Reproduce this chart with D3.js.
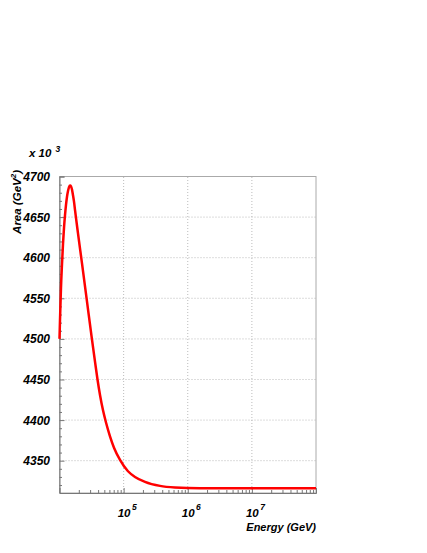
<!DOCTYPE html>
<html>
<head>
<meta charset="utf-8">
<script src="https://cdn.jsdelivr.net/npm/d3@7"></script>
<style>
  body { margin: 0; background: #fff; }
  text { font-family: "Liberation Sans", Arial, sans-serif; font-weight: bold; font-style: italic; }
</style>
</head>
<body>
<div id="chart"></div>
<script>
// energy (GeV) and area (x 10^3 GeV^2)
var energy = [1.0e4, 1.018e4, 1.037e4, 1.055e4, 1.094e4, 1.134e4, 1.176e4, 1.218e4, 1.263e4, 1.309e4,
              1.357e4, 1.407e4, 1.463e4, 1.511e4, 1.566e4, 1.623e4, 1.683e4, 1.744e4, 1.808e4, 1.943e4,
              2.243e4, 2.685e4, 3.212e4, 3.578e4, 3.914e4, 4.282e4, 4.77e4, 5.311e4, 6.131e4, 7.078e4,
              8.781e4, 1.17e5, 1.505e5, 2.154e5, 3.693e5, 6.327e5, 1.55e6, 1e7, 1e8];
var area = [4500, 4523, 4544, 4563, 4592, 4617, 4637, 4652, 4665, 4675,
            4682, 4687, 4689, 4688, 4684, 4677, 4669, 4659, 4649, 4630,
            4593, 4546, 4499, 4472, 4450, 4431, 4412, 4397, 4380, 4366,
            4351, 4337, 4330, 4324, 4319, 4317, 4316, 4316, 4316];

var yTicks = [4350, 4400, 4450, 4500, 4550, 4600, 4650, 4700];
var xTicks = [1e5, 1e6, 1e7];

var width = 427, height = 553;
var margin = {left: 59.5, right: 111, top: 176.5, bottom: 60};

var svg = d3.select("#chart").append("svg")
    .attr("width", width)
    .attr("height", height);

var x = d3.scaleLog()
    .domain([1e4, 1e8])
    .range([margin.left, width - margin.right]);

var y = d3.scaleLinear()
    .domain([4310.2, 4700])
    .range([height - margin.bottom, margin.top]);

// grid
var grid = svg.append("g")
    .attr("stroke", "#aaa")
    .attr("stroke-width", 0.8)
    .attr("stroke-dasharray", "1,2");

grid.selectAll(".gy")
  .data(yTicks)
  .join("line")
    .attr("x1", x.range()[0])
    .attr("x2", x.range()[1])
    .attr("y1", d => y(d))
    .attr("y2", d => y(d));

grid.selectAll(".gx")
  .data(xTicks)
  .join("line")
    .attr("x1", d => x(d))
    .attr("x2", d => x(d))
    .attr("y1", y.range()[0])
    .attr("y2", y.range()[1]);

// frame
svg.append("rect")
    .attr("x", x.range()[0])
    .attr("y", y.range()[1])
    .attr("width", x.range()[1] - x.range()[0])
    .attr("height", y.range()[0] - y.range()[1])
    .attr("fill", "none")
    .attr("stroke", "#aaa")
    .attr("stroke-width", 1);

// y axis
var minorY = d3.range(4320, 4701, 10).filter(v => v % 50 != 0);
svg.append("g")
    .attr("transform", `translate(${x.range()[0]},0)`)
    .call(d3.axisLeft(y).tickValues(yTicks).tickSize(-5).tickFormat(""));
svg.append("g")
    .attr("transform", `translate(${x.range()[0]},0)`)
    .call(d3.axisLeft(y).tickValues(minorY).tickSize(-2.5).tickFormat(""))
    .call(g => g.select(".domain").remove());

// x axis
var minorX = [];
[1e4, 1e5, 1e6, 1e7].forEach(b => { for (var k = 2; k <= 9; k++) minorX.push(b * k); });
svg.append("g")
    .attr("transform", `translate(0,${y.range()[0]})`)
    .call(d3.axisBottom(x).tickValues(xTicks).tickSize(-5).tickFormat(""));
svg.append("g")
    .attr("transform", `translate(0,${y.range()[0]})`)
    .call(d3.axisBottom(x).tickValues(minorX).tickSize(-3).tickFormat(""))
    .call(g => g.select(".domain").remove());

svg.selectAll(".domain, .tick line").attr("stroke", "#777");

// y tick labels
svg.append("g").selectAll("text")
  .data(yTicks)
  .join("text")
    .attr("x", 50)
    .attr("y", d => y(d) + 4.5)
    .attr("text-anchor", "end")
    .attr("font-size", 12)
    .text(d => d);

// x tick labels
var xl = svg.append("g").selectAll("text")
  .data(xTicks)
  .join("text")
    .attr("x", d => x(d) - 6)
    .attr("y", 517)
    .attr("font-size", 11.5);
xl.append("tspan").text("10");
xl.append("tspan").attr("dx", 1.5).attr("dy", -7).attr("font-size", 8.5)
    .text(d => Math.round(Math.log10(d)));

// axis titles
svg.append("text")
    .attr("x", x.range()[1])
    .attr("y", 531)
    .attr("text-anchor", "end")
    .attr("font-size", 11)
    .text("Energy (GeV)");

var yt = svg.append("text")
    .attr("transform", "translate(21,170) rotate(-90)")
    .attr("text-anchor", "end")
    .attr("font-size", 11.5);
yt.append("tspan").text("Area (GeV");
yt.append("tspan").attr("dy", -5).attr("font-size", 8).text("2");
yt.append("tspan").attr("dy", 5).text(")");

var mult = svg.append("text")
    .attr("x", 29)
    .attr("y", 157)
    .attr("font-size", 11.5);
mult.append("tspan").text("x 10");
mult.append("tspan").attr("dx", 4).attr("dy", -5).attr("font-size", 8.5).text("3");

// curve
var line = d3.line()
    .x((d, i) => x(energy[i]))
    .y(d => y(d))
    .curve(d3.curveMonotoneX);

svg.append("path")
    .datum(area)
    .attr("fill", "none")
    .attr("stroke", "#f00")
    .attr("stroke-width", 2.5)
    .attr("d", line);
</script>
</body>
</html>
